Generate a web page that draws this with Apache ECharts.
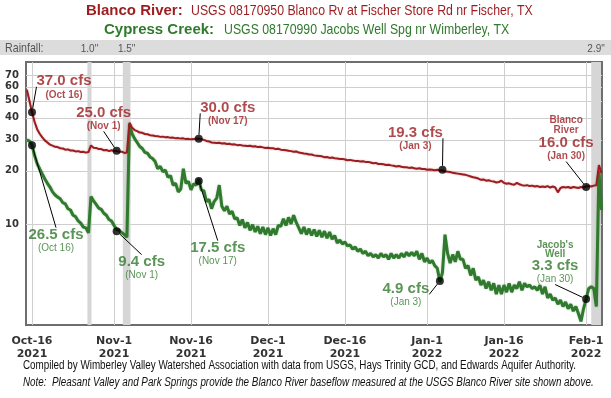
<!DOCTYPE html>
<html>
<head>
<meta charset="utf-8">
<title>Blanco River / Cypress Creek flow</title>
<script src="https://cdn.jsdelivr.net/npm/echarts@6/dist/echarts.min.js"></script>
<style>
html, body { margin: 0; padding: 0; background: #fff; }
#chart { width: 611px; height: 398px; }
</style>
</head>
<body>
<div id="chart"></div>
<script>
'use strict';

// days are counted from Oct 16 2021, two readings a day starting on Oct 15
var startDay = -1;
var stepDay = 0.5;

// Blanco River flow, cfs
var blancoFlow = [
    57.7, 50, 43, 38, 34.5, 32.5, 31, 29.8, 29, 28.2,
    27.8, 27.4, 27.3, 26.9, 26.8, 26.4, 26.5, 26.1, 26.1, 25.8,
    25.9, 25.6, 25.7, 25.4, 25.6, 27.9, 27.1, 27.0, 26.6, 26.6,
    26.2, 26.3, 25.9, 26.2, 25.9, 26.0, 25.7, 25.7, 25.3, 25.4,
    37.5, 35.2, 34.1, 33.6, 33.0, 32.9, 32.4, 32.3, 31.9, 31.8,
    31.6, 31.5, 31.2, 31.3, 31.0, 31.1, 30.8, 30.9, 30.6, 30.7,
    30.5, 30.6, 30.3, 30.4, 30.2, 30.3, 30.4, 30.5, 30.3, 30.0,
    29.6, 29.4, 29.0, 28.9, 28.8, 28.9, 28.6, 28.7, 28.4, 28.5,
    28.2, 28.3, 28.0, 28.1, 27.9, 27.8, 27.7, 27.8, 27.5, 27.6,
    27.3, 27.4, 27.2, 27.0, 27.1, 26.9, 26.9, 26.6, 26.7, 26.4,
    26.3, 26.2, 26.0, 25.9, 25.7, 25.8, 25.4, 25.3, 25.1, 25.0,
    24.8, 24.8, 24.5, 24.4, 24.3, 24.2, 23.9, 24.0, 23.7, 23.8,
    23.6, 23.5, 23.4, 23.4, 23.2, 23.0, 23.1, 22.9, 22.8, 22.8,
    22.6, 22.7, 22.5, 22.5, 22.3, 22.1, 22.2, 21.9, 21.9, 21.8,
    21.6, 21.7, 21.5, 21.4, 21.2, 21.3, 21.1, 21.0, 21.0, 20.8,
    20.9, 20.7, 20.6, 20.7, 20.5, 20.5, 20.3, 20.4, 20.3, 20.2,
    20.3, 20.1, 20.1, 19.9, 19.8, 19.7, 19.5, 19.4, 19.3, 19.2,
    19.1, 19.0, 18.8, 18.6, 18.4, 18.3, 18.1, 17.8, 17.9, 17.6,
    17.7, 17.5, 17.4, 17.2, 17.3, 17.6, 17.1, 16.9, 17.0, 16.8,
    16.7, 17.1, 16.8, 16.6, 16.5, 16.6, 16.4, 16.5, 16.3, 16.4,
    16.2, 16.3, 16.2, 16.4, 16.1, 16.3, 16.1, 15.1, 16.0, 16.2,
    16.1, 16.2, 16.0, 16.2, 16.1, 16.0, 16.2, 16.1, 16.3, 16.4,
    16.3, 16.5, 16.6, 21.6, 19.5
];

// Cypress Creek at Jacob's Well, cfs
var cypressFlow = [
    30, 29.5, 28, 24.5, 22, 20.5, 19.2, 18, 17, 16.2,
    15.2, 14.6, 14.2, 13.9, 13.2, 13.0, 12.2, 12.0, 11.2, 11.0,
    10.4, 10.1, 9.6, 9.5, 8.9, 14.3, 13.5, 12.9, 12.3, 12.1,
    11.5, 11.2, 10.6, 10.4, 9.8, 9.3, 9.2, 8.9, 8.7, 8.4,
    37, 32.5, 30.5, 29, 27.5, 26.8, 25.5, 25.2, 24, 23.5,
    22.6, 20.6, 21.2, 19.8, 20.2, 18.4, 18.8, 16.6, 17.0, 15.2,
    15.8, 20.6, 17.0, 17.4, 15.6, 16.9, 16.6, 18.0, 15.6, 15.4,
    13.4, 13.8, 12.2, 13.4, 14.0, 16.6, 12.6, 11.9, 12.6, 11.4,
    11.8, 10.7, 10.8, 9.8, 10.6, 9.5, 10.2, 9.2, 9.9, 9.0,
    9.7, 8.8, 9.6, 8.7, 9.5, 8.6, 9.4, 8.7, 9.8, 9.7,
    10.7, 9.8, 10.9, 10.0, 11.2, 10.2, 9.5, 8.8, 9.6, 8.7,
    9.4, 8.6, 9.3, 8.5, 9.2, 8.4, 9.1, 8.3, 9.0, 8.2,
    8.6, 7.8, 8.1, 7.7, 7.9, 7.5, 7.6, 7.2, 7.4, 7.0,
    7.2, 6.8, 7.0, 6.6, 6.8, 6.5, 6.7, 6.4, 6.8, 6.5,
    6.7, 6.3, 6.8, 6.4, 6.7, 6.4, 6.8, 6.5, 6.9, 6.6,
    6.9, 6.6, 7.0, 6.3, 6.8, 6.1, 6.4, 6.0, 6.2, 5.8,
    5.6, 4.7, 5.3, 8.7, 6.8, 6.0, 6.7, 6.1, 7.0, 6.3,
    6.3, 5.6, 5.8, 5.1, 5.6, 4.8, 5.0, 4.5, 4.8, 4.3,
    4.7, 4.2, 4.6, 4.0, 4.5, 4.0, 4.5, 4.1, 4.6, 4.1,
    4.5, 4.3, 4.7, 4.2, 4.6, 4.4, 4.5, 4.3, 4.4, 4.2,
    4.5, 4.0, 4.4, 3.8, 4.0, 3.7, 3.8, 3.5, 3.7, 3.4,
    3.6, 3.3, 3.5, 3.2, 3.4, 3.1, 2.8, 3.3, 3.75, 4.3,
    4.4, 4.3, 3.4, 20, 12
];

// x axis ticks (days from Oct 16)
var xTickDays = [0, 16, 31, 46, 61, 77, 92, 108];
var xTickLabels = ['Oct-16\n2021', 'Nov-1\n2021', 'Nov-16\n2021', 'Dec-1\n2021',
    'Dec-16\n2021', 'Jan-1\n2022', 'Jan-16\n2022', 'Feb-1\n2022'];
var yTicks = [10, 20, 30, 40, 50, 60, 70];

// rain events
var rainFrom = [10.8, 17.7, 109.0];
var rainTo = [11.6, 19.2, 110.9];
var rainAmount = ['1.0"', '1.5"', '2.9"'];

// called-out readings
var blancoDotDays = [0, 16.5, 32.5, 80, 108];
var blancoDotFlow = [43, 26, 30.4, 20.3, 16.2];
var blancoDotText = ['37.0 cfs', '25.0 cfs', '30.0 cfs', '19.3 cfs', '16.0 cfs'];
var cypressDotDays = [0, 16.5, 32.5, 79.5, 108];
var cypressDotFlow = [28, 9.1, 17.5, 4.75, 3.75];
var cypressDotText = ['26.5 cfs', '9.4 cfs', '17.5 cfs', '4.9 cfs', '3.3 cfs'];
var dotDates = ['(Oct 16)', '(Nov 1)', '(Nov 17)', '(Jan 3)', '(Jan 30)'];

var RED = '#9c1c1f';
var GREEN = '#2f7a2c';
var SANS = "'Liberation Sans', Arial, sans-serif";
var NARROW_X = 0.82; // Liberation Sans squeezed to look like Arial Narrow

// where each call-out sits relative to its dot
var blancoOffset = [[32, -25], [-13, -32], [29, -25], [-27, -31], [-20, -48]];
var cypressOffset = [[24, 96], [25, 37], [19, 73], [-34, 14], [-31, -36]];

function toPairs(list) {
    return list.map(function (v, i) {
        return [startDay + i * stepDay, v];
    });
}

function dots(days, flows) {
    return days.map(function (d, i) {
        return [d, flows[i]];
    });
}

// plain text piece for the graphic component
function txt(x, y, text, font, fill, narrow) {
    return {
        type: 'text',
        x: x,
        y: y,
        scaleX: narrow ? NARROW_X : 1,
        silent: true,
        style: {text: text, font: font, fill: fill, verticalAlign: 'middle'}
    };
}

var chart = echarts.init(document.getElementById('chart'));

var option = {
    animation: false,
    backgroundColor: '#fff',
    graphic: [
        {
            type: 'rect', z: -10, silent: true,
            shape: {x: 0, y: 40, width: 611, height: 15},
            style: {fill: '#dcdcdc'}
        },
        txt(86, 11, 'Blanco River:', 'bold 15px ' + SANS, RED, false),
        txt(191, 11, 'USGS 08170950 Blanco Rv at Fischer Store Rd nr Fischer, TX', '15px ' + SANS, RED, true),
        txt(104, 30, 'Cypress Creek:', 'bold 15px ' + SANS, GREEN, false),
        txt(224, 30, 'USGS 08170990 Jacobs Well Spg nr Wimberley, TX', '15px ' + SANS, GREEN, true),
        txt(5, 48, 'Rainfall:', '13px ' + SANS, '#555', true),
        txt(23, 366, 'Compiled by Wimberley Valley Watershed Association with data from USGS, Hays Trinity GCD, and Edwards Aquifer Authority.',
            '12px ' + SANS, '#111', true),
        txt(23, 383, 'Note:  Pleasant Valley and Park Springs provide the Blanco River baseflow measured at the USGS Blanco River site shown above.',
            'italic 12px ' + SANS, '#111', true)
    ],
    grid: {
        left: 26,
        right: 9,
        top: 62,
        bottom: 73,
        show: true,
        borderColor: '#6e6e6e',
        borderWidth: 2,
        backgroundColor: '#fff'
    },
    xAxis: {
        type: 'value',
        min: -1.17,
        max: 111.1,
        axisLine: {show: false},
        axisTick: {show: false, customValues: xTickDays},
        axisLabel: {
            customValues: xTickDays,
            formatter: function (v) {
                return xTickLabels[xTickDays.indexOf(v)];
            },
            fontFamily: 'DejaVu Sans',
            fontWeight: 'bold',
            fontSize: 11,
            lineHeight: 13,
            color: '#333',
            margin: 10
        },
        splitLine: {show: true, lineStyle: {color: '#cfcfcf', width: 1}}
    },
    yAxis: {
        type: 'log',
        logBase: 10,
        min: 2.67,
        max: 83,
        axisLine: {show: false},
        axisTick: {show: false, customValues: yTicks},
        axisLabel: {
            customValues: yTicks,
            fontFamily: 'DejaVu Sans',
            fontWeight: 'bold',
            fontSize: 10,
            color: '#333',
            margin: 7
        },
        splitLine: {show: true, lineStyle: {color: '#cfcfcf', width: 1}}
    },
    series: [
        {
            // rainfall bands
            type: 'line',
            data: [],
            z: 1,
            clip: false,
            markArea: {
                silent: true,
                itemStyle: {color: '#d6d6d6'},
                label: {
                    show: true,
                    position: 'top',
                    distance: 8,
                    color: '#555',
                    fontFamily: SANS,
                    fontSize: 10
                },
                data: rainFrom.map(function (s, i) {
                    return [{xAxis: s, name: rainAmount[i]}, {xAxis: rainTo[i]}];
                })
            }
        },
        {
            name: 'Blanco River',
            type: 'line',
            data: toPairs(blancoFlow),
            showSymbol: false,
            z: 4,
            lineStyle: {color: RED, width: 2, shadowColor: 'rgba(160,40,40,0.35)', shadowBlur: 2}
        },
        {
            name: 'Cypress Creek',
            type: 'line',
            data: toPairs(cypressFlow),
            showSymbol: false,
            z: 3,
            lineStyle: {color: GREEN, width: 3, shadowColor: 'rgba(40,110,40,0.35)', shadowBlur: 2}
        },
        {
            type: 'scatter',
            z: 6,
            data: dots(blancoDotDays, blancoDotFlow),
            symbolSize: 8,
            itemStyle: {color: '#000'},
            label: {
                show: true,
                position: 'inside',
                align: 'center',
                verticalAlign: 'middle',
                formatter: function (p) {
                    var head = p.dataIndex === 4 ? '{n|Blanco}\n{n|River}\n' : '';
                    return head + '{v|' + blancoDotText[p.dataIndex] + '}\n{d|' + dotDates[p.dataIndex] + '}';
                },
                rich: {
                    n: {fontFamily: SANS, fontWeight: 'bold', fontSize: 10, lineHeight: 10, color: RED, align: 'center'},
                    v: {fontFamily: SANS, fontWeight: 'bold', fontSize: 15, lineHeight: 15, color: RED, align: 'center'},
                    d: {fontFamily: SANS, fontWeight: 'bold', fontSize: 10, lineHeight: 12, color: RED, align: 'center'}
                }
            },
            labelLayout: function (p) {
                return {dx: blancoOffset[p.dataIndex][0], dy: blancoOffset[p.dataIndex][1]};
            },
            labelLine: {show: true, lineStyle: {color: '#000', width: 1}}
        },
        {
            type: 'scatter',
            z: 6,
            data: dots(cypressDotDays, cypressDotFlow),
            symbolSize: 8,
            itemStyle: {color: '#000'},
            label: {
                show: true,
                position: 'inside',
                align: 'center',
                verticalAlign: 'middle',
                formatter: function (p) {
                    var head = p.dataIndex === 4 ? "{n|Jacob's}\n{n|Well}\n" : '';
                    return head + '{v|' + cypressDotText[p.dataIndex] + '}\n{d|' + dotDates[p.dataIndex] + '}';
                },
                rich: {
                    n: {fontFamily: SANS, fontWeight: 'bold', fontSize: 10, lineHeight: 9, color: GREEN, align: 'center'},
                    v: {fontFamily: SANS, fontWeight: 'bold', fontSize: 15, lineHeight: 15, color: GREEN, align: 'center'},
                    d: {fontFamily: SANS, fontSize: 10, lineHeight: 12, color: GREEN, align: 'center'}
                }
            },
            labelLayout: function (p) {
                return {dx: cypressOffset[p.dataIndex][0], dy: cypressOffset[p.dataIndex][1]};
            },
            labelLine: {show: true, lineStyle: {color: '#000', width: 1}}
        }
    ]
};

chart.setOption(option);
</script>
</body>
</html>
